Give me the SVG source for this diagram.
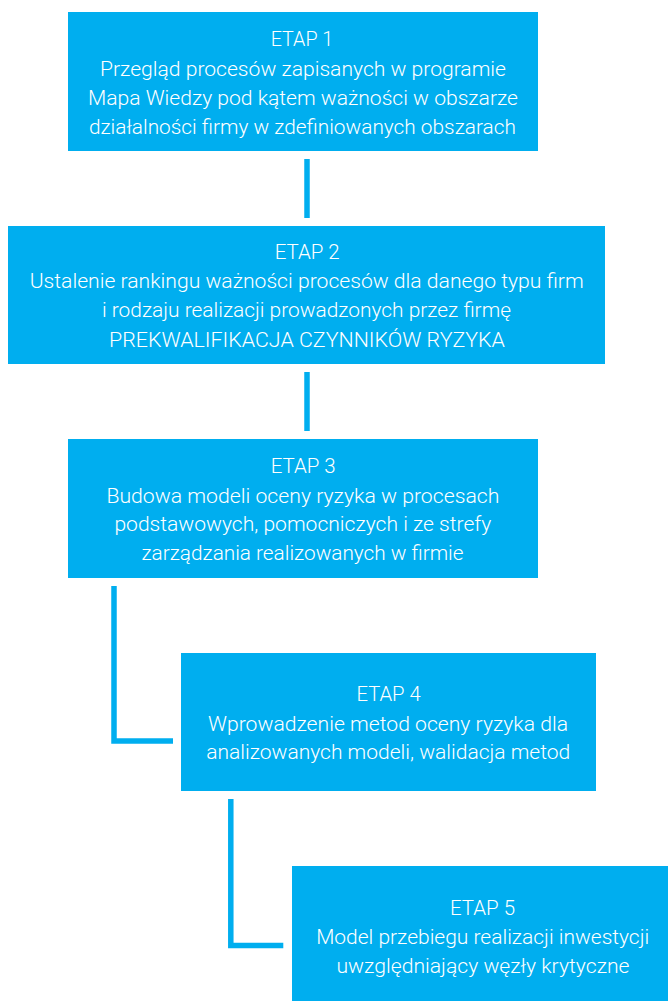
<svg xmlns="http://www.w3.org/2000/svg" width="668" height="1001" viewBox="0 0 668 1001">
  <style>
    .box { fill: #00AEEF; }
    .lbl { fill: #FFFFFF; font-family: Roboto, "Liberation Sans", sans-serif; font-weight: 300; font-size: 19.5px; text-anchor: middle; }
    .link { fill: none; stroke: #00AEEF; stroke-width: 5.5; stroke-linecap: butt; stroke-linejoin: miter; }
  </style>
  <rect width="668" height="1001" fill="#FFFFFF"/>

  <g id="connectors">
    <path class="link" d="M307,159 V218"/>
    <path class="link" d="M307,372 V431"/>
    <path class="link" d="M114,586 V741 H173"/>
    <path class="link" d="M230.8,799 V945.5 H283.3"/>
  </g>

  <g id="etap1">
    <rect class="box" x="68" y="12" width="470" height="139"/>
    <text class="lbl" x="302" y="46" textLength="62.6" lengthAdjust="spacingAndGlyphs">ETAP 1</text>
    <text class="lbl" x="303" y="76" textLength="406" lengthAdjust="spacingAndGlyphs">Przegląd procesów zapisanych w programie</text>
    <text class="lbl" x="303" y="104.5" textLength="430" lengthAdjust="spacingAndGlyphs">Mapa Wiedzy pod kątem ważności w obszarze</text>
    <text class="lbl" x="302.4" y="133.5" textLength="427" lengthAdjust="spacingAndGlyphs">działalności firmy w zdefiniowanych obszarach</text>
  </g>

  <g id="etap2">
    <rect class="box" x="8" y="226" width="597" height="138"/>
    <text class="lbl" x="307.2" y="259" textLength="65" lengthAdjust="spacingAndGlyphs">ETAP 2</text>
    <text class="lbl" x="306.7" y="288" textLength="554" lengthAdjust="spacingAndGlyphs">Ustalenie rankingu ważności procesów dla danego typu firm</text>
    <text class="lbl" x="306.5" y="317" textLength="409" lengthAdjust="spacingAndGlyphs">i rodzaju realizacji prowadzonych przez firmę</text>
    <text class="lbl" x="307" y="346.5" textLength="396" lengthAdjust="spacingAndGlyphs">PREKWALIFIKACJA CZYNNIKÓW RYZYKA</text>
  </g>

  <g id="etap3">
    <rect class="box" x="68" y="439" width="470" height="139"/>
    <text class="lbl" x="303.2" y="472.7" textLength="65" lengthAdjust="spacingAndGlyphs">ETAP 3</text>
    <text class="lbl" x="302.9" y="502.7" textLength="393" lengthAdjust="spacingAndGlyphs">Budowa modeli oceny ryzyka w procesach</text>
    <text class="lbl" x="302.9" y="531" textLength="377" lengthAdjust="spacingAndGlyphs">podstawowych, pomocniczych i ze strefy</text>
    <text class="lbl" x="302.5" y="560" textLength="322" lengthAdjust="spacingAndGlyphs">zarządzania realizowanych w firmie</text>
  </g>

  <g id="etap4">
    <rect class="box" x="181" y="653" width="415" height="138"/>
    <text class="lbl" x="388.6" y="700.7" textLength="64.3" lengthAdjust="spacingAndGlyphs">ETAP 4</text>
    <text class="lbl" x="388" y="730.7" textLength="360" lengthAdjust="spacingAndGlyphs">Wprowadzenie metod oceny ryzyka dla</text>
    <text class="lbl" x="388.2" y="759" textLength="364" lengthAdjust="spacingAndGlyphs">analizowanych modeli, walidacja metod</text>
  </g>

  <g id="etap5">
    <rect class="box" x="292" y="866" width="376" height="135"/>
    <text class="lbl" x="482.5" y="915" textLength="65" lengthAdjust="spacingAndGlyphs">ETAP 5</text>
    <text class="lbl" x="482.7" y="944.3" textLength="333" lengthAdjust="spacingAndGlyphs">Model przebiegu realizacji inwestycji</text>
    <text class="lbl" x="483" y="972.7" textLength="293" lengthAdjust="spacingAndGlyphs">uwzględniający węzły krytyczne</text>
  </g>
</svg>
